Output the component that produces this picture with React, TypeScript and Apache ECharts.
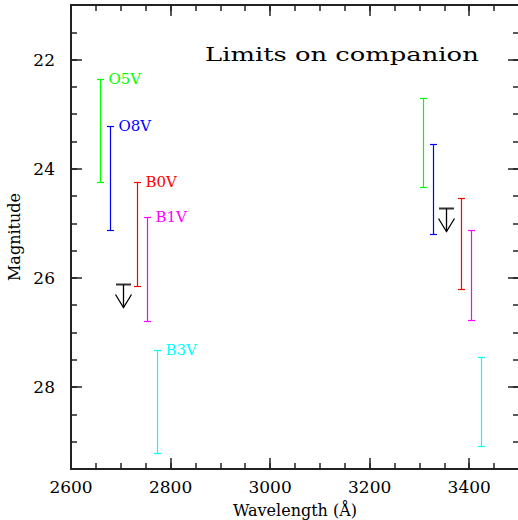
import React, { useEffect, useRef } from "react";
import * as echarts from "echarts";

const spectralTypes = ["O5V", "O8V", "B0V", "B1V", "B3V"];
const typeColors = ["#00ff00", "#0000ff", "#ff0000", "#ff00ff", "#00ffff"];
const leftWavelengths = [2658, 2678, 2733, 2753, 2773];
const leftBright = [22.35, 23.22, 24.24, 24.88, 27.32];
const leftFaint = [24.25, 25.13, 26.15, 26.78, 29.2];
const rightWavelengths = [3307, 3327, 3383, 3403, 3423];
const rightBright = [22.7, 23.55, 24.54, 25.13, 27.44];
const rightFaint = [24.34, 25.2, 26.21, 26.77, 29.08];
const limitWavelengths = [2704, 3353];
const limitMags = [26.12, 24.71];
const xTickLabels = [2600, 2800, 3000, 3200, 3400];
const yTickLabels = [22, 24, 26, 28];
const titleText = "Limits on companion";
const xName = "Wavelength (Å)";
const yName = "Magnitude";

const FONT = "DejaVu Serif";
const AXIS_COLOR = "#222";

function majorX(position: string, showLabels: boolean) {
  return {
    type: "value",
    position,
    min: 2600,
    max: 3500,
    axisLine: { show: true, onZero: false, lineStyle: { color: AXIS_COLOR, width: 2 } },
    axisTick: { show: true, inside: true, length: 11, customValues: xTickLabels, lineStyle: { color: AXIS_COLOR, width: 1.5 } },
    axisLabel: showLabels
      ? { show: true, customValues: xTickLabels, formatter: (v: number) => String(v), margin: 9, fontFamily: FONT, fontSize: 17, color: "#000" }
      : { show: false },
    splitLine: { show: false },
    ...(showLabels
      ? { name: xName, nameLocation: "middle", nameGap: 33, nameTextStyle: { fontFamily: FONT, fontSize: 16, color: "#000" } }
      : {}),
  };
}
function minorX(position: string) {
  return {
    type: "value",
    position,
    min: 2600,
    max: 3500,
    interval: 50,
    axisLine: { show: false, onZero: false },
    axisTick: { show: true, inside: true, length: 6, lineStyle: { color: AXIS_COLOR, width: 1.5 } },
    axisLabel: { show: false },
    splitLine: { show: false },
  };
}
function majorY(position: string, showLabels: boolean) {
  return {
    type: "value",
    position,
    inverse: true,
    min: 21,
    max: 29.5,
    axisLine: { show: true, onZero: false, lineStyle: { color: AXIS_COLOR, width: 2 } },
    axisTick: { show: true, inside: true, length: 11, customValues: yTickLabels, lineStyle: { color: AXIS_COLOR, width: 1.5 } },
    axisLabel: showLabels
      ? { show: true, customValues: yTickLabels, margin: 16, fontFamily: FONT, fontSize: 17, color: "#000" }
      : { show: false },
    splitLine: { show: false },
    ...(showLabels
      ? { name: yName, nameLocation: "middle", nameGap: 39, nameRotate: 90, nameTextStyle: { fontFamily: FONT, fontSize: 16, color: "#000" } }
      : {}),
  };
}
function minorY(position: string) {
  return {
    type: "value",
    position,
    inverse: true,
    min: 21,
    max: 29.5,
    interval: 0.5,
    axisLine: { show: false, onZero: false },
    axisTick: { show: true, inside: true, length: 6, lineStyle: { color: AXIS_COLOR, width: 1.5 } },
    axisLabel: { show: false },
    splitLine: { show: false },
  };
}

export default function App() {
  const ref = useRef<HTMLDivElement>(null);
  useEffect(() => {
    if (!ref.current) return;
    const chart = echarts.init(ref.current, undefined, { renderer: "svg" });

    const barData: any[] = [];
    leftWavelengths.forEach((w, i) => barData.push([w, leftBright[i], leftFaint[i], i, 1]));
    rightWavelengths.forEach((w, i) => barData.push([w, rightBright[i], rightFaint[i], i, 0]));
    const limitData = limitWavelengths.map((w, i) => [w, limitMags[i]]);

    const option: any = {
      animation: false,
      backgroundColor: "#fff",
      grid: { left: 71, right: 2, top: 5, bottom: 51, containLabel: false, outerBoundsMode: "none" },
      xAxis: [majorX("bottom", true), minorX("bottom"), majorX("top", false), minorX("top")],
      yAxis: [majorY("left", true), minorY("left"), majorY("right", false), minorY("right")],
      graphic: [
        {
          type: "text",
          x: 205,
          y: 54,
          scaleX: 1.36,
          style: { text: titleText, font: `19px "${FONT}"`, fill: "#000", align: "left", verticalAlign: "middle" },
        },
      ],
      series: [
        {
          type: "custom",
          xAxisIndex: 0,
          yAxisIndex: 0,
          data: barData,
          renderItem: (params: any, api: any) => {
            const x = api.value(0);
            const k = api.value(3);
            const lab = api.value(4);
            const p1 = api.coord([x, api.value(1)]);
            const p2 = api.coord([x, api.value(2)]);
            const color = typeColors[k];
            const cx = Math.round(p1[0]) + 0.5;
            const y1 = Math.round(p1[1]) + 0.5;
            const y2 = Math.round(p2[1]) + 0.5;
            const st = { stroke: color, lineWidth: 1.2 };
            const children: any[] = [
              { type: "line", shape: { x1: cx, y1, x2: cx, y2 }, style: st },
              { type: "line", shape: { x1: cx - 3.5, y1, x2: cx + 3.5, y2: y1 }, style: st },
              { type: "line", shape: { x1: cx - 3.5, y1: y2, x2: cx + 3.5, y2 }, style: st },
            ];
            if (lab) {
              children.push({
                type: "text",
                x: cx + 8,
                y: p1[1],
                style: {
                  text: spectralTypes[k],
                  fill: color,
                  font: `15px "${FONT}"`,
                  align: "left",
                  verticalAlign: "middle",
                },
              });
            }
            return { type: "group", children };
          },
        },
        {
          type: "custom",
          xAxisIndex: 0,
          yAxisIndex: 0,
          data: limitData,
          renderItem: (params: any, api: any) => {
            const p = api.coord([api.value(0), api.value(1)]);
            const cx = Math.round(p[0]) + 0.5;
            const cy = Math.round(p[1]) + 0.5;
            return {
              type: "group",
              children: [
                { type: "line", shape: { x1: cx - 7.5, y1: cy, x2: cx + 7.5, y2: cy }, style: { stroke: "#333", lineWidth: 2 } },
                { type: "line", shape: { x1: cx, y1: cy, x2: cx, y2: cy + 23 }, style: { stroke: "#000", lineWidth: 1.3 } },
                {
                  type: "polyline",
                  shape: { points: [[cx - 8, cy + 10], [cx, cy + 23], [cx + 8, cy + 10]] },
                  style: { stroke: "#000", lineWidth: 1.3, fill: "none" },
                },
              ],
            };
          },
        },
      ],
    };
    chart.setOption(option);
    return () => chart.dispose();
  }, []);

  return (
    <div style={{ position: "absolute", left: 0, top: 0, width: 518, height: 520, overflow: "hidden", background: "#fff" }}>
      <div ref={ref} style={{ width: 521, height: 520 }} />
    </div>
  );
}
